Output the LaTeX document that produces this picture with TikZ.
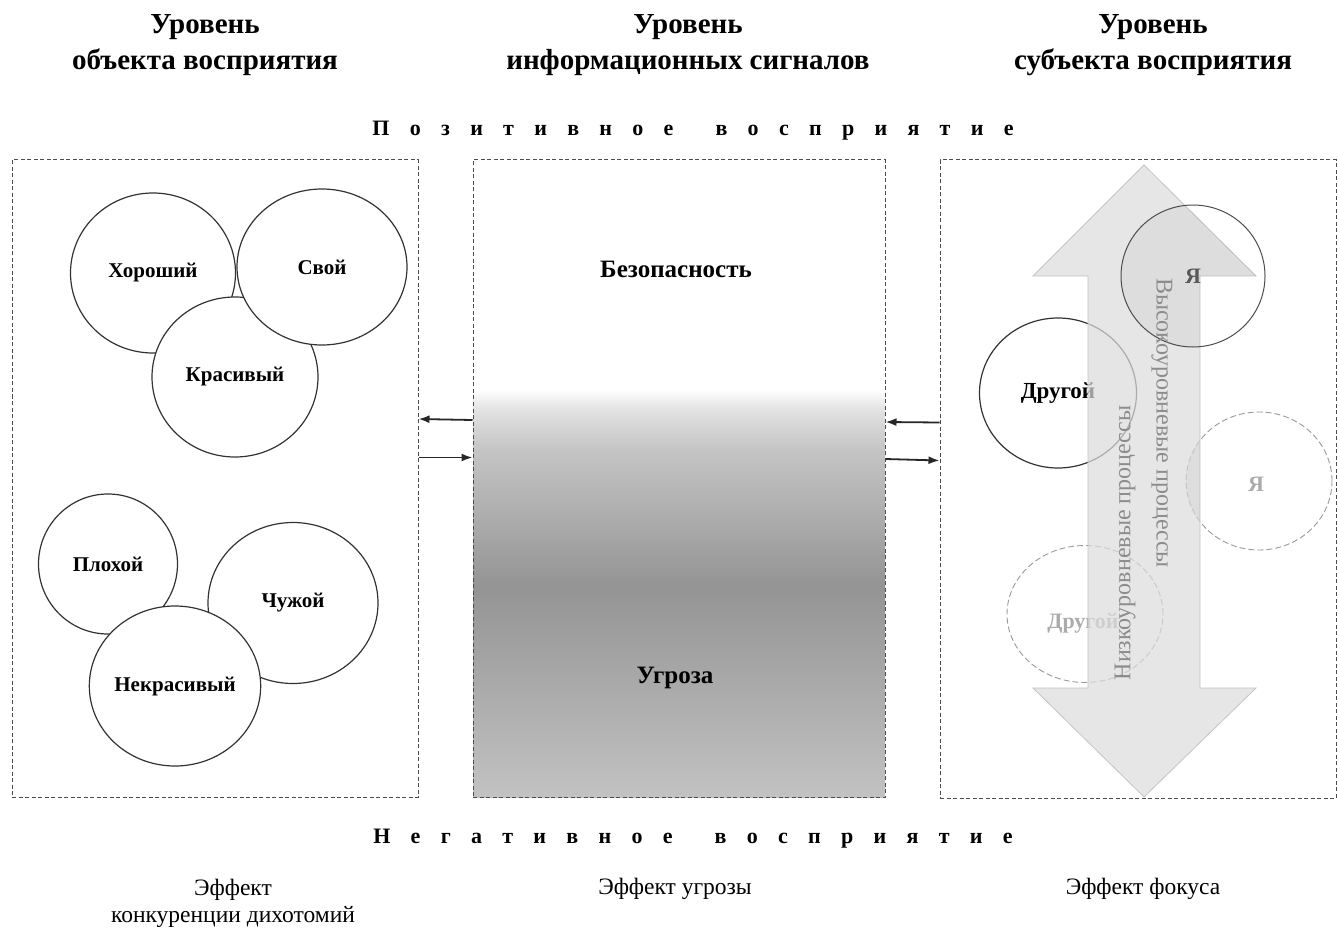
\documentclass[tikz,border=0pt]{standalone}
\usepackage{fontspec}
\setmainfont{Liberation Serif}
\usetikzlibrary{shapes.geometric,arrows.meta,calc}
\definecolor{gA}{HTML}{C2C2C2}
\definecolor{gB}{HTML}{949494}
\definecolor{gC}{HTML}{C4C4C4}
\definecolor{gD}{HTML}{E2E2E2}
\definecolor{arrfill}{HTML}{DCDCDC}
\definecolor{arrdraw}{HTML}{C4C4C4}
\definecolor{rottext}{HTML}{8C8C8C}
\definecolor{faint}{HTML}{ABABAB}
\pgfdeclareverticalshading{midshade}{100bp}{color(0bp)=(gA); color(25bp)=(gA); color(41.6bp)=(gB); color(52.2bp)=(gC); color(55.4bp)=(gD); color(57bp)=(white); color(100bp)=(white)}
\tikzset{
  panel/.style={draw=black!70, dash pattern=on 4pt off 2.5pt, line width=1pt, inner sep=0pt},
  bubble/.style={ellipse, draw=black!80, line width=1.2pt, fill=white, inner sep=0pt, font=\fontsize{21}{24}\selectfont\bfseries},
  dbubble/.style={ellipse, draw=black!40, dash pattern=on 6pt off 3pt, line width=0.9pt, inner sep=0pt},
  faintlabel/.style={font=\fontsize{22}{25}\selectfont\bfseries, text=faint},
  title/.style={align=center, font=\fontsize{29}{36}\selectfont\bfseries},
  effect/.style={align=center, font=\fontsize{23.5}{27}\selectfont},
  spaced/.style={font=\fontsize{22}{26}\selectfont\bfseries},
  link/.style={-{Latex[length=11pt,width=8pt]}, line width=1.8pt, black!85},
  rot/.style={font=\fontsize{24}{27}\selectfont, text=rottext}
}
\begin{document}
\begin{tikzpicture}[x=1pt,y=-1pt]
\useasboundingbox (0,0) rectangle (1338,928);
% titles
\node[title] (t1) at (205,45) {Уровень\\объекта восприятия};
\node[title] (t2) at (688,45) {Уровень\\информационных сигналов};
\node[title] (t3) at (1153,45) {Уровень\\субъекта восприятия};
\node[spaced] (pos) at (693,131) {{\spaceskip=20.3pt plus 0pt П о з и т и в н о е\hspace{42pt}в о с п р и я т и е}};
\node[spaced] (neg) at (693,839) {{\spaceskip=20.3pt plus 0pt Н е г а т и в н о е\hspace{42pt}в о с п р и я т и е}};
% panels
\node[panel, minimum width=406pt, minimum height=637pt] (left) at (215,478.5) {};
\shade[shading=midshade] (473,160) rectangle (885,797);
\node[panel, minimum width=412pt, minimum height=637pt] (mid) at (679,478.5) {};
\node[panel, minimum width=396pt, minimum height=638pt] (right) at (1138,479) {};
% left bubbles
\node[bubble, minimum width=165pt, minimum height=160pt] (good) at (153,273) {\raisebox{-2pt}{Хороший}};
\node[bubble, minimum width=166pt, minimum height=160pt] (beauty) at (235,377) {Красивый};
\node[bubble, minimum width=170pt, minimum height=156pt] (own) at (322,267) {Свой};
\node[bubble, minimum width=139pt, minimum height=140pt] (bad) at (108,564) {Плохой};
\node[bubble, minimum width=170pt, minimum height=161pt] (alien) at (293,603) {Чужой};
\node[bubble, minimum width=170pt, minimum height=160pt] (ugly) at (175,686) {Некрасивый};
% middle texts
\node[font=\fontsize{25}{28}\selectfont\bfseries] (safe) at (676,269) {Безопасность};
\node[font=\fontsize{25}{28}\selectfont\bfseries] (threat) at (675,678) {Угроза};
% connectors
\draw[link] ([yshift=58.5pt]mid.west) -- ([yshift=59.5pt]left.east);
\draw[link] ([yshift=21pt]left.east) -- ([yshift=21pt]mid.west);
\draw[link] ([yshift=56.5pt]right.west) -- ([yshift=56.5pt]mid.east);
\draw[link] ([yshift=19.5pt]mid.east) -- ([yshift=18.5pt]right.west);
% right panel
\node[dbubble, minimum width=146pt, minimum height=138pt] (meD) at (1259,481) {};
\node[faintlabel] (meDl) at (1256,484) {Я};
\node[dbubble, minimum width=156pt, minimum height=137pt] (otherD) at (1085,614) {};
\node[faintlabel] (otherDl) at (1083,623) {Другой};
\node[bubble, font=\fontsize{23}{26}\selectfont\bfseries, minimum width=157pt, minimum height=150pt] (other) at (1058,393) {Другой};
\path[fill=arrfill, fill opacity=0.72, draw=arrdraw, line width=0.8pt]
  (1144,165) -- (1256,276) -- (1200,276) -- (1200,688) -- (1256,688) -- (1144,797)
  -- (1033,688) -- (1088,688) -- (1088,276) -- (1033,276) -- cycle;
\begin{scope}
\clip (1144,165) -- (1256,276) -- (1200,276) -- (1200,688) -- (1256,688) -- (1144,797)
  -- (1033,688) -- (1088,688) -- (1088,276) -- (1033,276) -- cycle;
\fill[black, opacity=0.04] (1193,276) ellipse (72pt and 71pt);
\fill[black, opacity=0.04] (1259,481) ellipse (73pt and 69pt);
\end{scope}
\node[ellipse, draw=black!70, line width=1pt, inner sep=0pt, minimum width=144pt, minimum height=142pt, font=\fontsize{22}{25}\selectfont\bfseries, text=black!65] (me) at (1193,276) {Я};
\node[rot, rotate=-90] (high) at (1162,423) {Высокоуровневые процессы};
\node[rot, rotate=90] (low) at (1125,543) {Низкоуровневые процессы};
% effects
\node[effect] (e1) at (233,903) {Эффект\\конкуренции дихотомий};
\node[effect] (e2) at (675,889) {Эффект угрозы};
\node[effect] (e3) at (1143,889) {Эффект фокуса};
\end{tikzpicture}
\end{document}
